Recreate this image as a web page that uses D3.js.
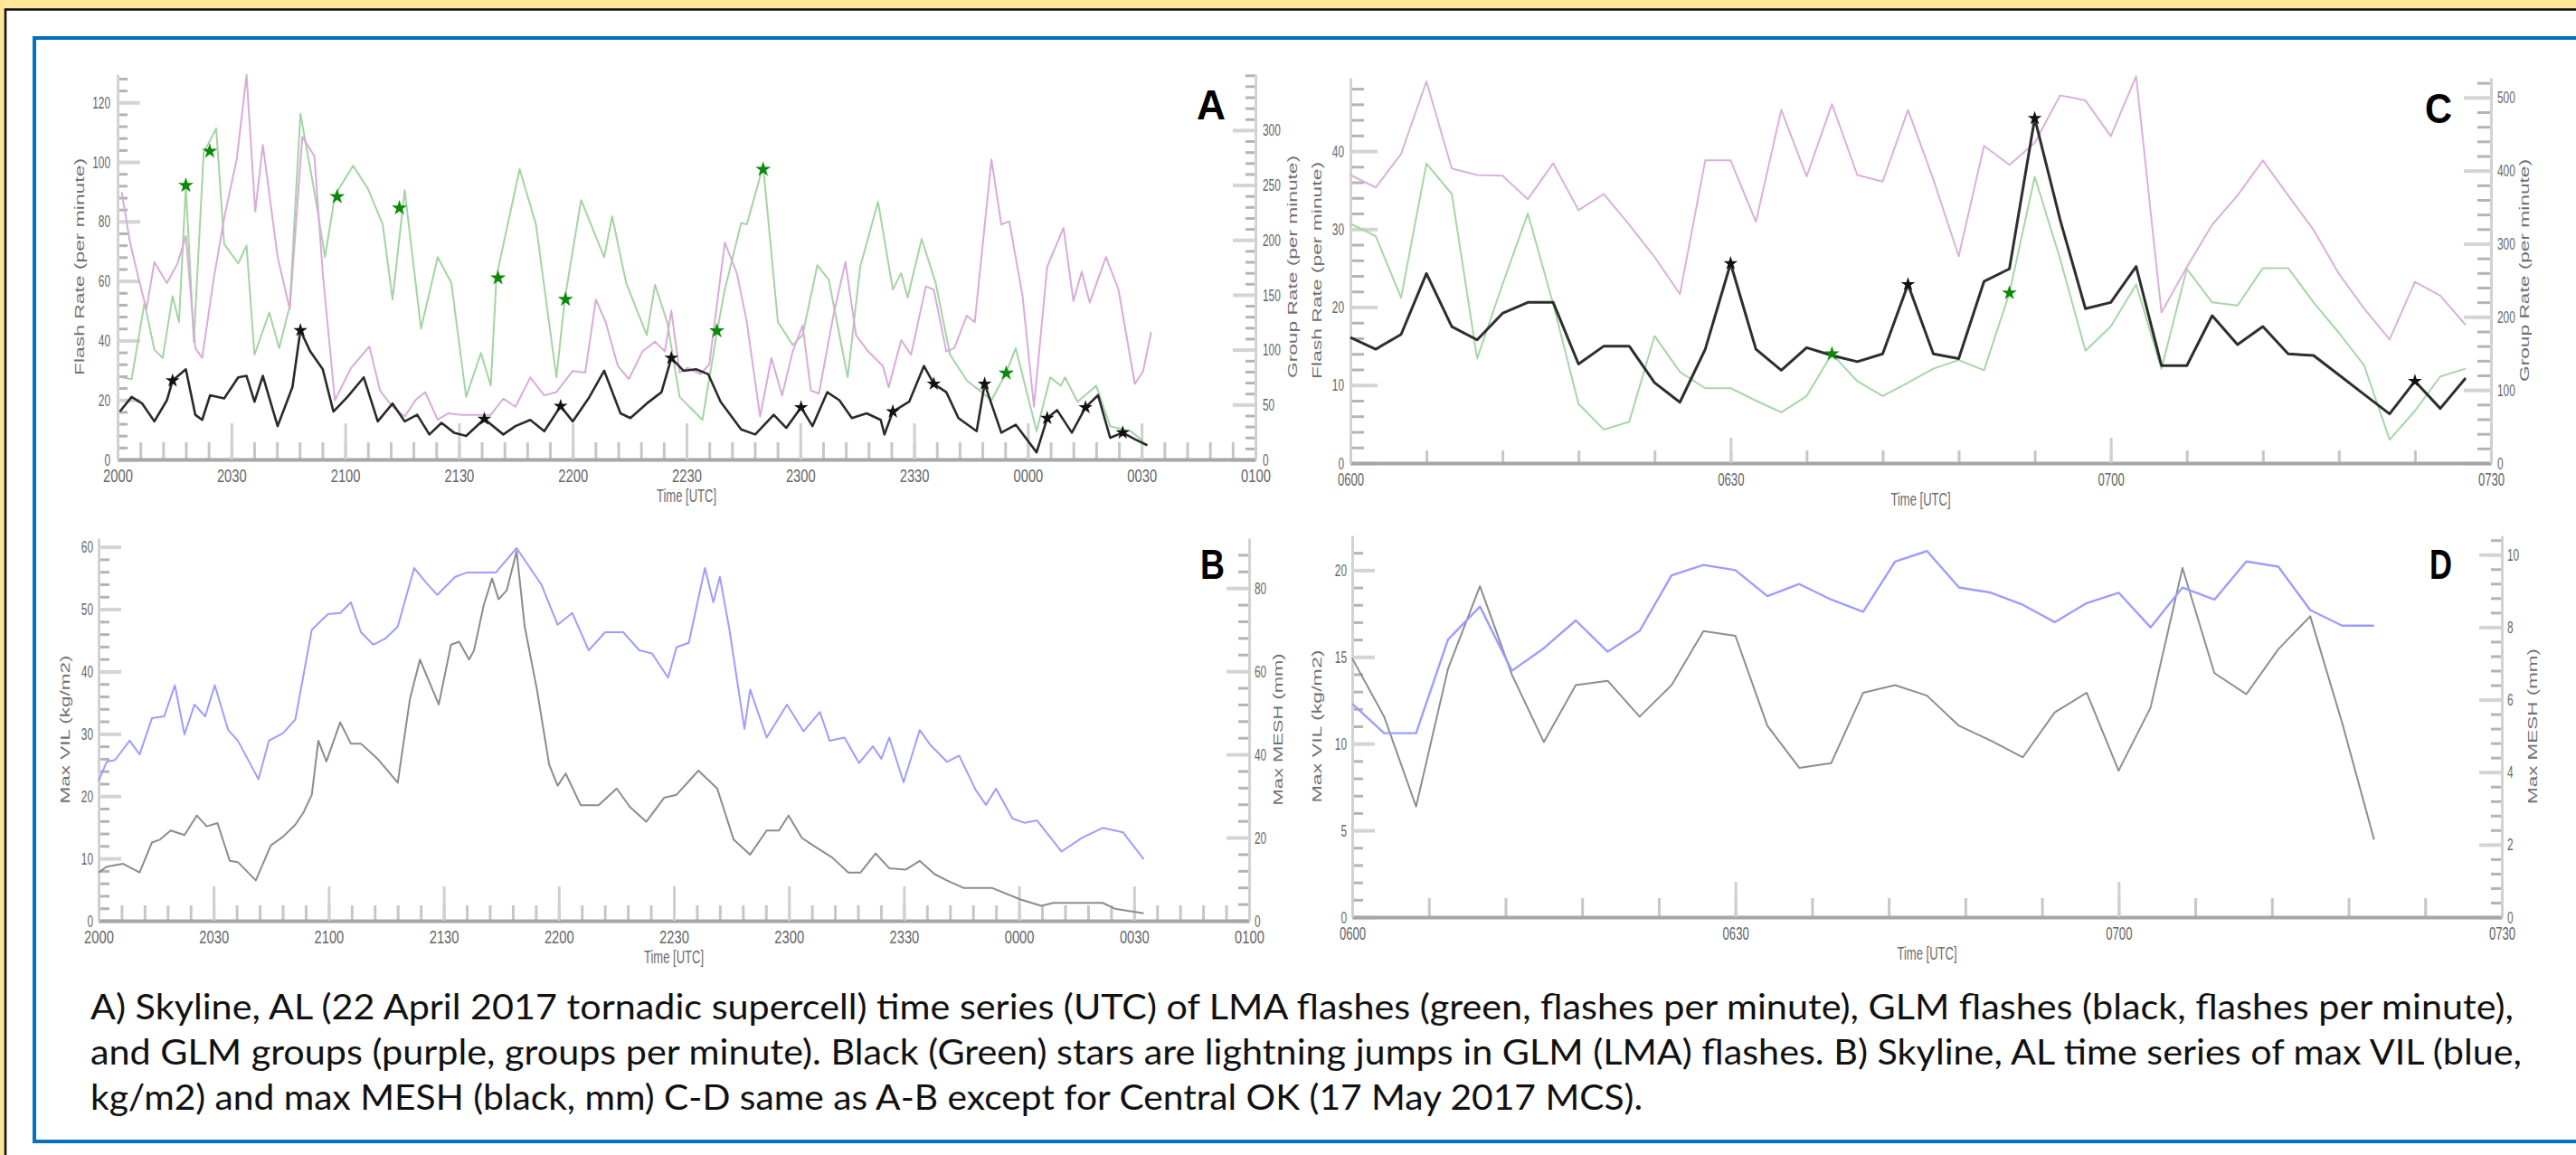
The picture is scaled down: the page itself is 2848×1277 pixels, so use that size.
<!DOCTYPE html>
<html>
<head>
<meta charset="utf-8">
<script src="https://cdn.jsdelivr.net/npm/d3@7"></script>
<style>
  body { margin: 0; background: #fff; }
  svg { display: block; }
</style>
</head>
<body>
<div id="chart"></div>
<script>
// ---------- DATA (minutes after the first axis time) ----------
// Panel A: Skyline, AL, 20:00 - 01:00 UTC
const aTimeLabels = ["2000","2030","2100","2130","2200","2230","2300","2330","0000","0030","0100"];

const aGlmT = [0.6,3.7,6.5,9.7,13.0,14.5,18.0,20.5,22.3,24.4,28.1,31.8,34.0,36.1,38.3,42.2,46.1,48.2,50.8,54.1,
  56.9,60.6,64.9,68.6,72.5,75.7,79.0,82.2,85.4,88.7,91.9,96.7,101.7,104.9,108.8,112.5,116.8,120.0,124.4,128.3,
  132.6,135.2,139.5,143.4,146.0,149.2,152.5,155.7,159.0,164.4,168.1,173.0,176.3,180.2,183.2,187.1,190.3,193.6,197.5,201.2,
  202.2,204.4,208.7,212.6,215.2,218.5,221.7,226.5,228.6,233.0,236.8,242.3,245.1,247.7,251.6,255.2,258.5,261.7,265.0,268.2,271.5];
const aGlmFlash = [16.1,21.0,18.8,12.8,19.9,26.5,30.3,15.0,13.3,21.6,20.5,27.6,28.1,19.4,28.1,11.2,24.3,43.4,36.3,30.3,
  16.1,21.0,27.6,12.8,18.8,12.8,15.0,8.4,12.3,9.0,7.9,13.6,8.4,11.2,13.3,9.5,17.9,12.8,21.0,29.8,
  15.5,13.9,18.8,22.6,34.1,29.8,30.3,28.7,19.4,10.1,8.4,15.0,10.6,17.5,11.2,22.6,19.9,13.9,15.5,13.3,
  8.4,16.1,19.4,31.4,25.4,22.6,13.9,9.5,25.4,9.0,11.7,2.4,13.9,16.6,9.0,17.5,21.6,7.3,9.0,6.8,4.8];

const aLmaT = [1.1,3.7,7.1,9.7,11.9,14.5,16.2,18.0,20.1,22.7,26.0,28.1,31.8,34.0,36.1,40.0,42.6,45.4,48.2,51.9,
  54.7,57.3,62.1,66.0,69.9,72.5,75.7,80.0,84.4,88.0,91.9,95.8,98.4,99.9,106.0,110.3,115.7,117.9,122.2,128.3,
  130.4,134.1,139.5,141.7,144.9,148.2,154.2,158.1,160.1,164.4,165.9,170.2,174.1,178.0,180.6,184.5,187.5,192.5,195.8,200.5,
  204.4,206.6,208.3,212.0,215.7,219.5,223.9,227.8,230.4,234.3,236.8,242.3,245.9,248.7,249.8,253.1,258.0,261.7,267.1,270.4];
const aLmaFlash = [27.6,27.0,52.7,36.9,34.1,54.9,46.2,92.1,39.6,103.1,111.3,72.4,65.9,71.9,35.2,49.4,37.4,51.6,116.2,89.9,
  68.0,88.8,98.7,91.0,79.0,53.8,90.5,44.0,68.0,59.3,21.0,35.8,24.8,61.5,97.6,79.0,27.6,53.8,87.2,68.0,
  81.7,59.3,41.8,58.7,46.2,21.0,13.3,43.4,57.1,79.5,79.0,98.7,46.2,38.5,41.8,65.3,60.4,27.6,64.8,86.6,
  57.1,62.6,54.4,74.1,59.3,35.2,26.5,22.6,19.9,29.2,37.4,9.5,27.6,24.8,27.6,19.4,24.8,11.2,9.5,6.2];

const aGrpT = [1.1,3.2,5.4,7.6,9.7,13.0,15.8,18.0,20.5,22.3,25.3,28.1,31.4,34.0,36.3,38.3,42.2,45.4,48.7,51.9,
  54.1,57.3,61.6,63.8,66.4,69.2,72.5,75.7,78.5,81.1,84.4,87.2,90.8,94.1,98.4,101.7,104.9,108.8,112.5,115.7,
  120.0,123.3,126.1,128.7,131.9,134.8,138.4,141.7,144.3,146.0,148.2,150.3,153.6,156.0,160.1,163.3,165.9,169.4,172.4,175.2,
  178.0,180.6,182.8,184.9,188.8,191.9,194.7,197.9,201.8,203.3,206.6,209.2,213.1,215.2,218.5,220.6,223.9,226.0,230.4,233.0,
  235.1,238.6,241.6,245.1,249.4,252.0,254.2,256.3,260.6,263.9,268.2,270.4,272.5];
const aGrpRate = [243.6,199.2,166.6,136.9,179.9,160.6,178.4,203.6,101.4,92.5,163.6,219.9,273.3,350.3,225.9,286.6,184.4,136.9,294.0,276.2,
  169.5,53.9,83.6,92.5,102.9,62.8,48.0,39.1,53.9,61.4,36.2,42.1,40.6,40.6,40.6,55.4,48.0,74.7,58.4,61.4,
  80.6,79.1,145.8,125.1,85.1,73.2,98.4,107.3,98.4,135.5,79.1,83.6,77.7,86.5,197.7,169.5,125.1,39.1,92.5,58.4,
  98.4,122.1,62.8,59.9,132.5,179.9,113.2,98.4,85.1,65.8,108.8,95.4,157.7,154.7,98.4,101.4,131.0,125.1,273.3,214.0,
  217.0,148.8,48.0,175.5,211.0,144.3,171.0,142.9,184.4,154.7,68.8,80.6,116.2];

const aGlmJumpT = [14.5,48.2,96.7,116.8,146.0,180.2,204.4,215.2,228.6,245.1,255.2,265.0];
const aGlmJumpV = [26.5,43.4,13.6,17.9,34.1,17.5,16.1,25.4,25.4,13.9,17.5,9.0];
const aLmaJumpT = [18.0,24.3,57.9,74.3,100.3,118.1,158.0,170.2,234.3];
const aLmaJumpV = [92.1,103.6,88.3,84.5,61.0,53.8,43.2,97.5,29.0];

// Panel B: Skyline, AL max VIL / max MESH
const bVilT = [0,2.1,4.3,8.1,10.7,13.9,17.1,19.9,22.4,25.0,27.8,30.3,33.8,36.3,41.7,44.4,48.1,51.3,55.6,59.8,
  63.0,65.8,68.4,71.6,74.8,78.0,82.3,85.5,88.3,93.0,96.2,103.6,109.0,115.4,119.7,123.5,127.8,132.1,136.8,141.0,
  144.3,148.5,150.7,153.9,158.1,160.3,162.0,164.5,168.4,169.9,174.2,179.5,183.8,188.1,190.6,194.5,198.3,201.9,204.1,206.2,
  209.9,214.1,216.9,221.2,224.4,228.7,231.4,234.0,238.3,241.5,244.7,251.1,256.4,261.8,267.1,272.5];
const bVil = [22.4,25.5,25.8,28.9,26.7,32.5,32.8,37.8,29.9,34.7,32.8,37.8,30.6,28.9,22.7,28.9,30.1,32.3,46.7,49.2,
  49.4,51.1,46.3,44.3,45.3,47.2,56.6,54.2,52.3,55.2,55.9,55.9,59.8,54.0,47.5,49.4,43.4,46.3,46.3,43.4,
  42.9,39.0,43.9,44.6,56.6,51.1,55.2,46.7,30.8,37.1,29.4,34.7,30.4,33.5,28.9,29.4,25.3,28.0,26.0,29.4,
  22.2,30.6,28.2,25.5,26.5,21.0,18.6,21.2,16.4,15.7,16.1,11.1,13.3,14.9,14.2,9.9];

const bMeshT = [0,2.1,6.4,10.7,13.9,16.0,18.8,22.4,25.6,28.2,31.0,34.2,36.3,41.0,44.9,48.1,51.3,53.4,55.6,57.3,
  59.4,63.0,65.8,68.4,72.7,78.0,81.2,83.8,88.7,91.9,94.0,96.6,97.9,100.4,102.6,104.3,106.4,109.0,111.1,114.3,
  117.5,119.7,121.8,125.7,130.4,135.1,138.5,142.8,147.5,150.7,156.4,161.3,165.6,169.9,174.2,177.4,179.9,183.4,187.0,191.3,
  195.5,198.7,202.6,206.2,210.5,214.1,218.0,221.2,225.5,232.9,240.4,245.8,249.0,255.4,261.8,265.0,272.5];
const bMesh = [11.6,13.0,13.7,11.6,18.8,19.5,21.7,20.6,25.3,22.7,23.5,14.4,14.1,9.7,18.1,20.2,23.1,26.0,30.3,43.3,
  38.3,47.7,42.6,42.6,39.0,33.2,53.4,62.8,52.0,66.4,67.1,62.8,65.0,75.8,82.3,77.3,79.4,88.8,70.8,55.6,
  37.5,32.5,35.4,27.8,27.8,31.8,27.4,23.8,29.6,30.3,36.1,31.8,19.5,15.9,21.7,21.7,25.3,19.9,17.7,15.2,
  11.6,11.6,16.2,12.6,12.3,14.4,11.2,9.7,7.9,7.9,5.1,3.6,4.3,4.3,4.3,2.9,1.8];

// Panel C: Central OK, 06:00 - 07:30 UTC
const cTimeLabels = ["0600","0630","0700","0730"];
const cT = [0,2,4,6,8,10,12,14,16,18,20,22,24,26,28,30,32,34,36,38,40,42,44,46,48,50,52,54,56,58,60,62,64,66,68,70,72,74,76,78,80,82,84,86,88];
const cGlmFlash = [16.1,14.6,16.5,24.3,17.5,15.8,19.2,20.6,20.6,12.7,15.0,15.0,10.3,7.8,14.6,25.6,14.6,11.9,14.8,13.8,
  13.0,14.0,22.9,14.0,13.4,23.3,24.9,44.2,31.2,19.8,20.6,25.2,12.5,12.5,18.9,15.2,17.5,14.0,13.8,11.3,8.8,6.3,10.5,7.0,10.9];
const cLmaFlash = [30.7,29.1,21.2,38.4,34.5,13.4,22.9,32.0,20.4,7.6,4.3,5.3,16.3,11.7,9.6,9.6,8.0,6.5,8.6,14.0,
  10.5,8.6,10.3,12.1,13.2,11.9,21.8,36.7,26.2,14.4,17.5,22.9,12.1,24.9,20.6,20.2,25.0,25.0,20.6,16.7,12.5,3.0,6.7,11.1,12.1];
const cGrpRate = [394,377,423,522,403,394,393,361,410,346,368,326,282,231,414,414,330,483,392,491,
  394,385,483,388,283,434,408,438,503,496,447,529,206,268,326,366,414,366,319,259,211,169,248,229,189];
const cGlmJumpT = [30,44,54,84];
const cGlmJumpV = [25.6,22.9,44.2,10.5];
const cLmaJumpT = [38,52];
const cLmaJumpV = [14.0,21.8];

// Panel D: Central OK max VIL / max MESH
const dT = [0,2.5,5,7.5,10,12.5,15,17.5,20,22.5,25,27.5,30,32.5,35,37.5,40,42.5,45,47.5,50,52.5,55,57.5,60,62.5,65,67.5,70,72.5,75,77.5,80];
const dVil = [12.3,10.6,10.6,16.0,17.9,14.2,15.5,17.1,15.3,16.5,19.7,20.3,20.0,18.5,19.2,18.3,17.6,20.5,21.1,19.0,
  18.7,18.0,17.0,18.1,18.7,16.7,19.0,18.3,20.5,20.2,17.7,16.8,16.8];
const dMesh = [7.14,5.53,3.05,6.85,9.13,6.69,4.83,6.40,6.52,5.53,6.40,7.89,7.76,5.28,4.12,4.25,6.19,6.40,6.11,5.28,
  4.87,4.41,5.65,6.19,4.04,5.78,9.63,6.73,6.15,7.39,8.30,5.36,2.14];

const caption = [
  "A) Skyline, AL (22 April 2017 tornadic supercell) time series (UTC) of LMA flashes (green, flashes per minute), GLM flashes (black, flashes per minute),",
  "and GLM groups (purple, groups per minute). Black (Green) stars are lightning jumps in GLM (LMA) flashes. B) Skyline, AL time series of max VIL (blue,",
  "kg/m2) and max MESH (black, mm) C-D same as A-B except for Central OK (17 May 2017 MCS)."
];

// ---------- SVG + frame ----------
const W = 2848, H = 1277;
const svg = d3.select("#chart").append("svg").attr("width", W).attr("height", H);

svg.append("rect").attr("width", W).attr("height", H).attr("fill", "#ffe699");
svg.append("rect").attr("x", 6).attr("y", 10.5).attr("width", W).attr("height", H)
  .attr("fill", "#fff").attr("stroke", "#111").attr("stroke-width", 2.6);
svg.append("rect").attr("x", 38).attr("y", 42).attr("width", W).attr("height", 1262 - 42)
  .attr("fill", "none").attr("stroke", "#0070c0").attr("stroke-width", 4);

const FONT = "Liberation Sans, Arial, sans-serif";

// squeeze tick / title text to the narrow look of the scanned plot
function squeeze(sel, perChar) {
  sel.attr("textLength", function () { return this.textContent.length * perChar; })
    .attr("lengthAdjust", "spacingAndGlyphs");
}

function drawPanel(p) {
  const x = d3.scaleLinear().domain([0, p.tMax]).range([p.x0, p.x1]);
  const yL = d3.scaleLinear().domain([0, p.lMax]).range([p.yb, p.yt]);
  const yR = d3.scaleLinear().domain([0, p.rMax]).range([p.yb, p.yt]);
  const g = svg.append("g");

  // x minor ticks
  g.append("g").attr("transform", `translate(0,${p.yb})`)
    .call(d3.axisBottom(x).tickValues(d3.range(0, p.tMax + 0.01, 6)).tickSize(-p.xMinorLen).tickFormat(""))
    .call(s => s.select(".domain").remove())
    .call(s => s.selectAll("line").attr("stroke", "#c6c6c6").attr("stroke-width", 3));

  // left minor / right minor ticks
  g.append("g").attr("transform", `translate(${p.x0},0)`)
    .call(d3.axisLeft(yL).tickValues(d3.range(0, p.lMax, p.lMinor)).tickSize(-p.yMinorLen).tickFormat(""))
    .call(s => s.select(".domain").remove())
    .call(s => s.selectAll("line").attr("stroke", "#b4b4b4").attr("stroke-width", 3));
  g.append("g").attr("transform", `translate(${p.x1},0)`)
    .call(d3.axisRight(yR).tickValues(d3.range(0, p.rMax, p.rMinor)).tickSize(-p.yMinorLen).tickFormat(""))
    .call(s => s.select(".domain").remove())
    .call(s => s.selectAll("line").attr("stroke", "#b4b4b4").attr("stroke-width", 3));

  // left major
  g.append("g").attr("transform", `translate(${p.x0},0)`)
    .call(d3.axisLeft(yL).tickValues(d3.range(0, p.lTop + 0.01, p.lStep)).tickSize(-p.yMajorLen)
      .tickSizeOuter(0).tickPadding(p.yPad))
    .attr("font-family", FONT).attr("font-size", 19).attr("color", "#666")
    .call(s => s.select(".domain").attr("stroke", "#d2d2d2").attr("stroke-width", 3))
    .call(s => s.selectAll("line").attr("stroke", "#d4d4d4").attr("stroke-width", 4))
    .call(s => squeeze(s.selectAll("text"), 6.6));

  // right major
  g.append("g").attr("transform", `translate(${p.x1},0)`)
    .call(d3.axisRight(yR).tickValues(d3.range(0, p.rTop + 0.01, p.rStep)).tickSize(-p.yMajorLen)
      .tickSizeOuter(0).tickPadding(p.yPad))
    .attr("font-family", FONT).attr("font-size", 19).attr("color", "#666")
    .call(s => s.select(".domain").attr("stroke", "#d2d2d2").attr("stroke-width", 3))
    .call(s => s.selectAll("line").attr("stroke", "#d4d4d4").attr("stroke-width", 4))
    .call(s => squeeze(s.selectAll("text"), 6.6));

  // x major + labels + thick axis bar
  g.append("g").attr("transform", `translate(0,${p.yb})`)
    .call(d3.axisBottom(x).tickValues(d3.range(0, p.tMax + 0.01, 30)).tickSize(-p.xMajorLen)
      .tickSizeOuter(0).tickPadding(p.xPad).tickFormat((d, i) => p.xLabels[i]))
    .attr("font-family", FONT).attr("font-size", 21).attr("color", "#666")
    .call(s => s.select(".domain").attr("stroke", "#a6a6a6").attr("stroke-width", 4))
    .call(s => s.selectAll("line").attr("stroke", "#cfcfcf").attr("stroke-width", 3))
    .call(s => squeeze(s.selectAll("text"), p.xChar));

  // titles
  g.append("text").attr("x", (p.x0 + p.x1) / 2).attr("y", p.yb + 47)
    .attr("text-anchor", "middle").attr("font-family", FONT).attr("font-size", 20).attr("fill", "#6a6a6a")
    .attr("textLength", 66).attr("lengthAdjust", "spacingAndGlyphs").text("Time [UTC]");
  const yMid = (p.yb + p.yt) / 2;
  [[p.lTitleX, p.lTitle, p.lTitleLen], [p.rTitleX, p.rTitle, p.rTitleLen]].forEach(([tx, t, len]) => {
    g.append("text").attr("transform", `translate(${tx},${yMid}) rotate(-90)`)
      .attr("text-anchor", "middle").attr("dominant-baseline", "central")
      .attr("font-family", FONT).attr("font-size", 14).attr("fill", "#707070")
      .attr("textLength", len).attr("lengthAdjust", "spacingAndGlyphs").text(t);
  });

  // panel letter
  g.append("text").attr("x", p.letterX).attr("y", p.yt + (p.letterDy))
    .attr("font-family", FONT).attr("font-weight", "bold").attr("font-size", 47).attr("fill", "#000")
    .attr("textLength", p.letterW).attr("lengthAdjust", "spacingAndGlyphs").text(p.letter);

  // series
  p.series.forEach(s => {
    const ys = s.axis === "right" ? yR : yL;
    g.append("path").datum(d3.zip(s.t, s.v))
      .attr("fill", "none").attr("stroke", s.color).attr("stroke-width", s.width)
      .attr("stroke-linejoin", "round")
      .attr("d", d3.line().x(d => x(d[0])).y(d => ys(d[1])));
  });
  (p.stars || []).forEach(s => {
    g.selectAll(null).data(d3.zip(s.t, s.v)).join("path")
      .attr("transform", d => `translate(${x(d[0])},${yL(d[1])})`)
      .attr("d", d3.symbol(d3.symbolStar).size(s.size))
      .attr("fill", s.color);
  });
}

drawPanel({
  letter: "A", letterX: 1323, letterDy: 50, letterW: 32,
  x0: 130, x1: 1388, yb: 508, yt: 82, tMax: 300, xLabels: aTimeLabels, xChar: 8.2, xPad: 10,
  xMajorLen: 40, xMinorLen: 19, yMajorLen: 25, yMinorLen: 11, yPad: 8,
  lMax: 129.5, lTop: 120, lStep: 20, lMinor: 4,
  rMax: 351, rTop: 300, rStep: 50, rMinor: 10,
  lTitle: "Flash Rate (per minute)", lTitleX: 88, lTitleLen: 240,
  rTitle: "Group Rate (per minute)", rTitleX: 1429, rTitleLen: 246,
  series: [
    { t: aLmaT, v: aLmaFlash, color: "#a3d4a3", width: 2 },
    { t: aGrpT, v: aGrpRate, color: "#d9abd9", width: 2, axis: "right" },
    { t: aGlmT, v: aGlmFlash, color: "#2a2a2a", width: 2.6 }
  ],
  stars: [
    { t: aGlmJumpT, v: aGlmJumpV, color: "#111", size: 75 },
    { t: aLmaJumpT, v: aLmaJumpV, color: "#0a8a0a", size: 90 }
  ]
});

drawPanel({
  letter: "B", letterX: 1327, letterDy: 45, letterW: 27,
  x0: 109, x1: 1381, yb: 1018, yt: 595, tMax: 300, xLabels: aTimeLabels, xChar: 8.2, xPad: 10,
  xMajorLen: 38, xMinorLen: 17, yMajorLen: 25, yMinorLen: 12, yPad: 6,
  lMax: 61.4, lTop: 60, lStep: 10, lMinor: 2,
  rMax: 92, rTop: 80, rStep: 20, rMinor: 4,
  lTitle: "Max VIL (kg/m2)", lTitleX: 72, lTitleLen: 164,
  rTitle: "Max MESH (mm)", rTitleX: 1413, rTitleLen: 168,
  series: [
    { t: bMeshT, v: bMesh, color: "#8c8c8c", width: 2, axis: "right" },
    { t: bVilT, v: bVil, color: "#9d9dff", width: 2 }
  ]
});

drawPanel({
  letter: "C", letterX: 2681, letterDy: 50, letterW: 30,
  x0: 1493, x1: 2754, yb: 512, yt: 86, tMax: 90, xLabels: cTimeLabels, xChar: 7.3, xPad: 10,
  xMajorLen: 28, xMinorLen: 14, yMajorLen: 30, yMinorLen: 15, yPad: 7,
  lMax: 49.4, lTop: 40, lStep: 10, lMinor: 2,
  rMax: 527, rTop: 500, rStep: 100, rMinor: 20,
  lTitle: "Flash Rate (per minute)", lTitleX: 1456, lTitleLen: 240,
  rTitle: "Group Rate (per minute)", rTitleX: 2791, rTitleLen: 246,
  series: [
    { t: cT, v: cLmaFlash, color: "#a6d6a6", width: 2 },
    { t: cT, v: cGrpRate, color: "#dbb0db", width: 2, axis: "right" },
    { t: cT, v: cGlmFlash, color: "#2e2e2e", width: 3 }
  ],
  stars: [
    { t: cGlmJumpT, v: cGlmJumpV, color: "#111", size: 75 },
    { t: cLmaJumpT, v: cLmaJumpV, color: "#0a8a0a", size: 85 }
  ]
});

drawPanel({
  letter: "D", letterX: 2686, letterDy: 48, letterW: 25,
  x0: 1495, x1: 2766, yb: 1014, yt: 592, tMax: 90, xLabels: cTimeLabels, xChar: 7.3, xPad: 10,
  xMajorLen: 39, xMinorLen: 21, yMajorLen: 25, yMinorLen: 12, yPad: 6,
  lMax: 22, lTop: 20, lStep: 5, lMinor: 1,
  rMax: 10.53, rTop: 10, rStep: 2, rMinor: 0.4,
  lTitle: "Max VIL (kg/m2)", lTitleX: 1456, lTitleLen: 169,
  rTitle: "Max MESH (mm)", rTitleX: 2800, rTitleLen: 172,
  series: [
    { t: dT, v: dMesh, color: "#8e8e8e", width: 2, axis: "right" },
    { t: dT, v: dVil, color: "#9d9dff", width: 2.4 }
  ]
});

// caption
const capEnds = [2779, 2788, 1816];
svg.append("g").selectAll("text").data(caption).join("text")
  .attr("x", 100).attr("y", (d, i) => 1127 + i * 50)
  .attr("font-family", "Lato, Open Sans, sans-serif").attr("font-size", 38).attr("fill", "#111")
  .attr("textLength", (d, i) => capEnds[i] - 100).attr("lengthAdjust", "spacingAndGlyphs")
  .text(d => d);
</script>
</body>
</html>
